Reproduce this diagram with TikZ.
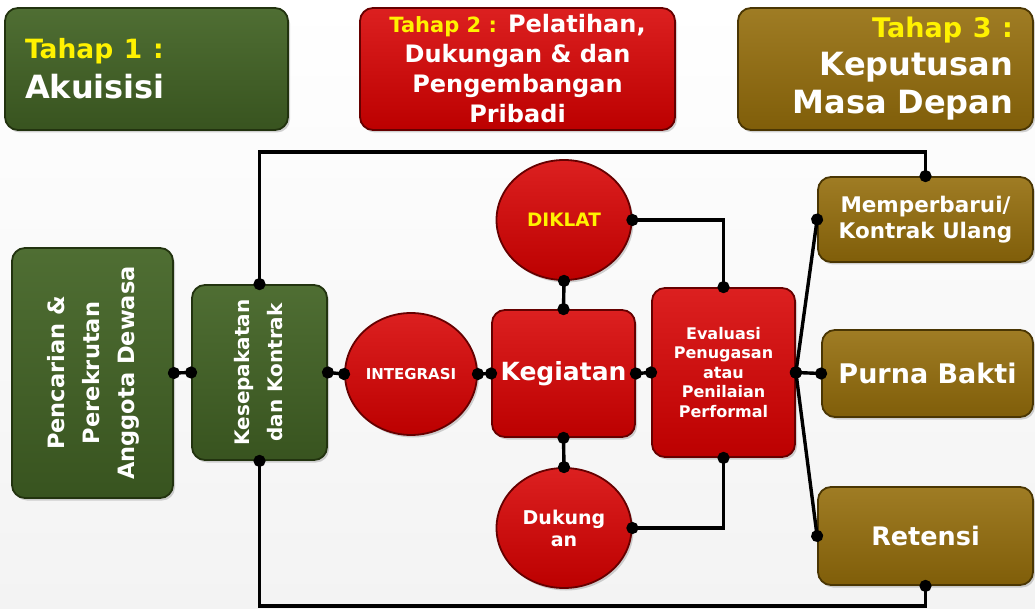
\documentclass[tikz,border=0pt]{standalone}
\usepackage{fontspec}
\setmainfont{DejaVu Sans}
\usetikzlibrary{shapes.geometric,shadows,arrows.meta}
\definecolor{grn}{HTML}{3D5B22}
\definecolor{grnD}{HTML}{22330F}
\definecolor{grnL}{HTML}{4F6E33}
\definecolor{rd}{HTML}{CC0000}
\definecolor{rdD}{HTML}{660000}
\definecolor{rdL}{HTML}{DC2020}
\definecolor{olv}{HTML}{8B660A}
\definecolor{olvD}{HTML}{4A3603}
\definecolor{olvL}{HTML}{9F7C24}
\definecolor{yel}{HTML}{FFF200}
\definecolor{bgG}{HTML}{F3F3F3}
\newcommand{\fsz}[2]{\fontsize{#1}{#2}\selectfont}
\begin{document}
\begin{tikzpicture}[x=1pt,y=-1pt,
  base/.style={inner sep=0pt, line width=1.8pt, text=white, font=\bfseries,
    drop shadow={shadow xshift=2pt, shadow yshift=-2.5pt, opacity=0.35}},
  gbox/.style={base, rounded corners=13pt, draw=grnD, top color=grnL, middle color=grn, bottom color=grn!92!black},
  rbox/.style={base, rounded corners=13pt, draw=rdD, top color=rdL, middle color=rd, bottom color=rd!92!black},
  obox/.style={base, rounded corners=13pt, draw=olvD, top color=olvL, middle color=olv, bottom color=olv!92!black},
  rcirc/.style={base, ellipse, draw=rdD, top color=rdL, middle color=rd, bottom color=rd!92!black},
  conn/.style={line width=3.4pt, {Circle[length=12pt]}-{Circle[length=12pt]}, shorten <=-6pt, shorten >=-6pt}
]
\useasboundingbox (0,0) rectangle (1035,609);
\fill[top color=white, bottom color=bgG] (0,0) rectangle (1035,609);

% stage headers
\node[gbox, minimum width=283pt, minimum height=122pt, text width=243pt, align=left,
  font=\bfseries\fsz{32}{40}] (t1) at (146.5,69)
  {{\color{yel}\fsz{26.5}{40}Tahap 1 :}\\Akuisisi};
\node[rbox, minimum width=315pt, minimum height=122pt, align=center,
  font=\bfseries\fsz{24}{30}] (t2) at (517.5,69)
  {{\color{yel}\fsz{21}{30}Tahap 2 :} Pelatihan,\\Dukungan \& dan\\Pengembangan\\Pribadi};
\node[obox, minimum width=295pt, minimum height=122pt, text width=255pt, align=right,
  font=\bfseries\fsz{32}{38}] (t3) at (885.5,69)
  {{\color{yel}\fsz{27}{38}Tahap 3 :}\\Keputusan\\Masa Depan};

% main flow
\node[gbox, minimum width=161pt, minimum height=250pt] (pen) at (92.5,373)
  {\rotatebox{90}{\fsz{22.5}{35}\begin{tabular}{@{}c@{}}Pencarian \&\\Perekrutan\\Anggota Dewasa\end{tabular}}};
\node[gbox, minimum width=135pt, minimum height=175pt] (kes) at (259.5,372.5)
  {\rotatebox{90}{\fsz{20}{33}\begin{tabular}{@{}c@{}}Kesepakatan\\dan Kontrak\end{tabular}}};
\node[rcirc, minimum width=132pt, minimum height=122pt, font=\bfseries\fsz{15}{18}] (int) at (411,374) {INTEGRASI};
\node[rbox, minimum width=143pt, minimum height=127pt, font=\bfseries\fsz{25}{30}] (keg) at (563.5,373.5) {Kegiatan};
\node[rcirc, minimum width=135pt, minimum height=120pt, text=yel, font=\bfseries\fsz{18.5}{22}] (dik) at (564,220) {DIKLAT};
\node[rcirc, minimum width=135pt, minimum height=120pt, align=center, font=\bfseries\fsz{19}{22}] (duk) at (564,528) {Dukung\\an};
\node[rbox, minimum width=143pt, minimum height=169pt, align=center, font=\bfseries\fsz{16}{19.5}] (eva) at (723.5,372.5)
  {Evaluasi\\Penugasan\\atau\\Penilaian\\Performal};
\node[obox, minimum width=215pt, minimum height=85pt, align=center, font=\bfseries\fsz{21.5}{26}] (mem) at (925.5,219.5)
  {Memperbarui/\\Kontrak Ulang};
\node[obox, minimum width=211pt, minimum height=87pt, font=\bfseries\fsz{27}{30}] (pur) at (927.5,373.5) {Purna Bakti};
\node[obox, minimum width=215pt, minimum height=98pt, font=\bfseries\fsz{25.5}{30}] (ret) at (925.5,536) {Retensi};

\coordinate (topY) at (0,152);
\coordinate (botY) at (0,606);

% connectors
\draw[conn] (pen.east) -- (kes.west);
\draw[conn] (kes.east) -- (int.west);
\draw[conn] (int.east) -- (keg.west);
\draw[conn] (keg.east) -- (eva.west);
\draw[conn] (dik.south) -- (keg.north);
\draw[conn] (keg.south) -- (duk.north);
\draw[conn] (dik.east) -| (eva.north);
\draw[conn] (duk.east) -| (eva.south);
\draw[conn] (eva.east) -- (mem.west);
\draw[conn] (eva.east) -- (pur.west);
\draw[conn] (eva.east) -- (ret.west);
\draw[conn] (kes.north) -- (kes.north |- topY) -| (mem.north);
\draw[conn] (kes.south) -- (kes.south |- botY) -| (ret.south);
\end{tikzpicture}
\end{document}
